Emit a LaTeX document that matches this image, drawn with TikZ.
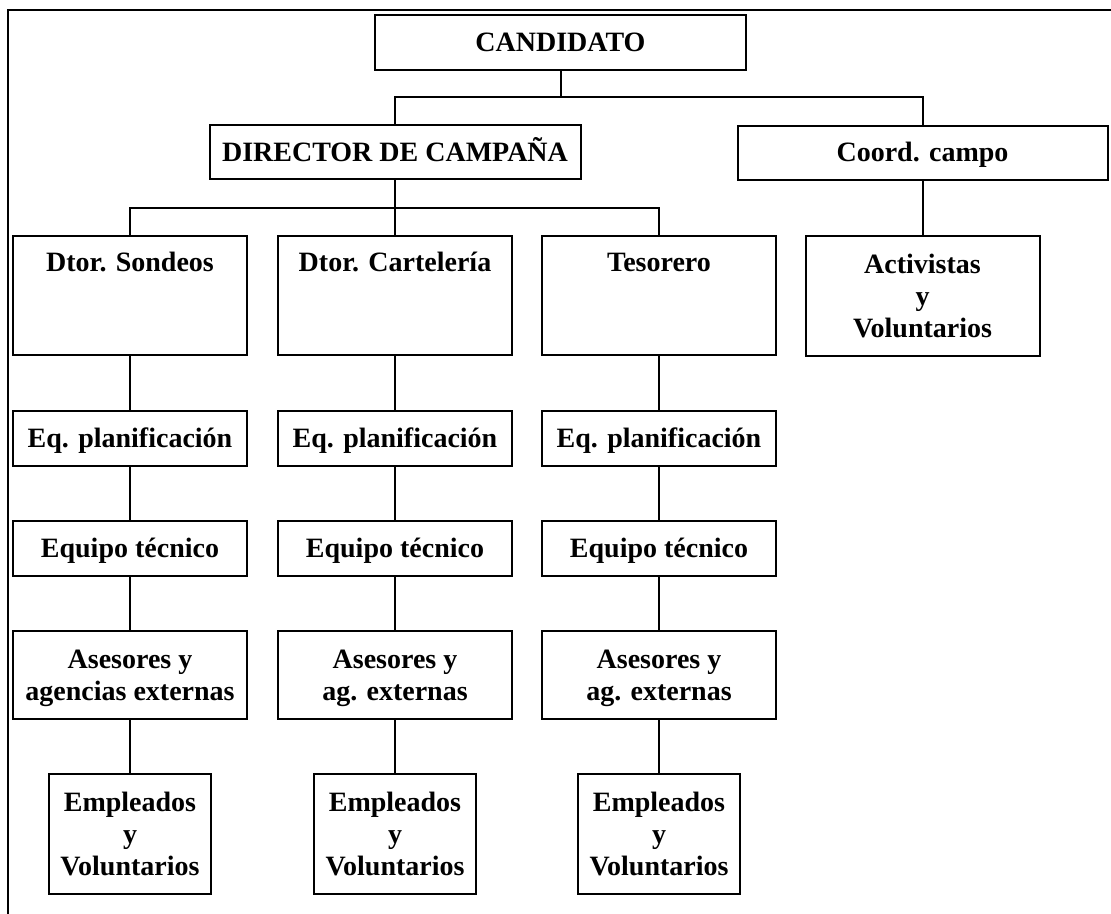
\documentclass[tikz,border=0pt]{standalone}
\usepackage{fontspec}
\setmainfont{Liberation Serif}
\begin{document}
\begin{tikzpicture}[x=0.75pt,y=-0.75pt,
  box/.style={draw=black, line width=1.5pt, rectangle, inner sep=0pt, align=center,
    font=\fontsize{21}{24}\selectfont\bfseries, fill=white},
  one/.style={text height=13.9pt, text depth=0pt},
  lbl/.style={inner sep=0pt, anchor=base, font=\fontsize{21}{24}\selectfont\bfseries},
  conn/.style={draw=black, line width=1.5pt},
  wide/.style={minimum width=278.25pt},
  col/.style={minimum width=175.5pt},
  single/.style={minimum height=41.25pt},
  tall/.style={minimum height=89.25pt},
  asr/.style={minimum height=66pt},
  emp/.style={minimum width=122pt, minimum height=90pt}
]
\useasboundingbox (0,0) rectangle (1111,914);
% frame
\draw[line width=1.4pt] (8,914) -- (8,10) -- (1111,10);

% top levels
\node[box, one, wide, single] (cand) at (560.5,42.5) {CANDIDATO};
\node[box, one, wide, minimum height=40.5pt] (dir) at (395,152) {DIRECTOR DE CAMPAÑA};
\node[box, one, minimum width=277.5pt, minimum height=40.5pt] (coord) at (922.5,152.5) {Coord. campo};

% directors
\node[box, col, tall] (s1) at (130,295.5) {};
\node[box, col, tall] (s2) at (395,295.5) {};
\node[box, col, tall] (s3) at (659,295.5) {};
\node[lbl] (s1t) at (130,271) {Dtor. Sondeos};
\node[lbl] (s2t) at (395,271) {Dtor. Cartelería};
\node[lbl] (s3t) at (659,271) {Tesorero};
\node[box, col, minimum height=90pt] (act) at (922.5,296) {Activistas\\y\\Voluntarios};

% planning
\node[box, one, col, single] (p1) at (130,438.5) {Eq. planificación};
\node[box, one, col, single] (p2) at (395,438.5) {Eq. planificación};
\node[box, one, col, single] (p3) at (659,438.5) {Eq. planificación};

% technical
\node[box, one, col, single] (t1) at (130,548.5) {Equipo técnico};
\node[box, one, col, single] (t2) at (395,548.5) {Equipo técnico};
\node[box, one, col, single] (t3) at (659,548.5) {Equipo técnico};

% advisors
\node[box, col, asr] (a1) at (130,675) {Asesores y\\\smash{agencias externas}};
\node[box, col, asr] (a2) at (395,675) {Asesores y\\\smash{ag. externas}};
\node[box, col, asr] (a3) at (659,675) {Asesores y\\\smash{ag. externas}};

% employees
\node[box, emp] (e1) at (130,834) {Empleados\\y\\Voluntarios};
\node[box, emp] (e2) at (395,834) {Empleados\\y\\Voluntarios};
\node[box, emp] (e3) at (659,834) {Empleados\\y\\Voluntarios};

% connectors
\coordinate (j1) at (560.5,97);
\coordinate (j2) at (395,208);
\draw[conn] (cand.south) -- (j1);
\draw[conn] (dir.north) -- (dir.north |- j1) -- (coord.north |- j1) -- (coord.north);
\draw[conn] (dir.south) -- (j2);
\draw[conn] (s1.north) -- (s1.north |- j2) -- (s3.north |- j2) -- (s3.north);
\draw[conn] (j2) -- (s2.north);
\draw[conn] (coord.south) -- (act.north);

\foreach \i in {1,2,3} {
  \draw[conn] (s\i.south) -- (p\i.north);
  \draw[conn] (p\i.south) -- (t\i.north);
  \draw[conn] (t\i.south) -- (a\i.north);
  \draw[conn] (a\i.south) -- (e\i.north);
}
\end{tikzpicture}
\end{document}
